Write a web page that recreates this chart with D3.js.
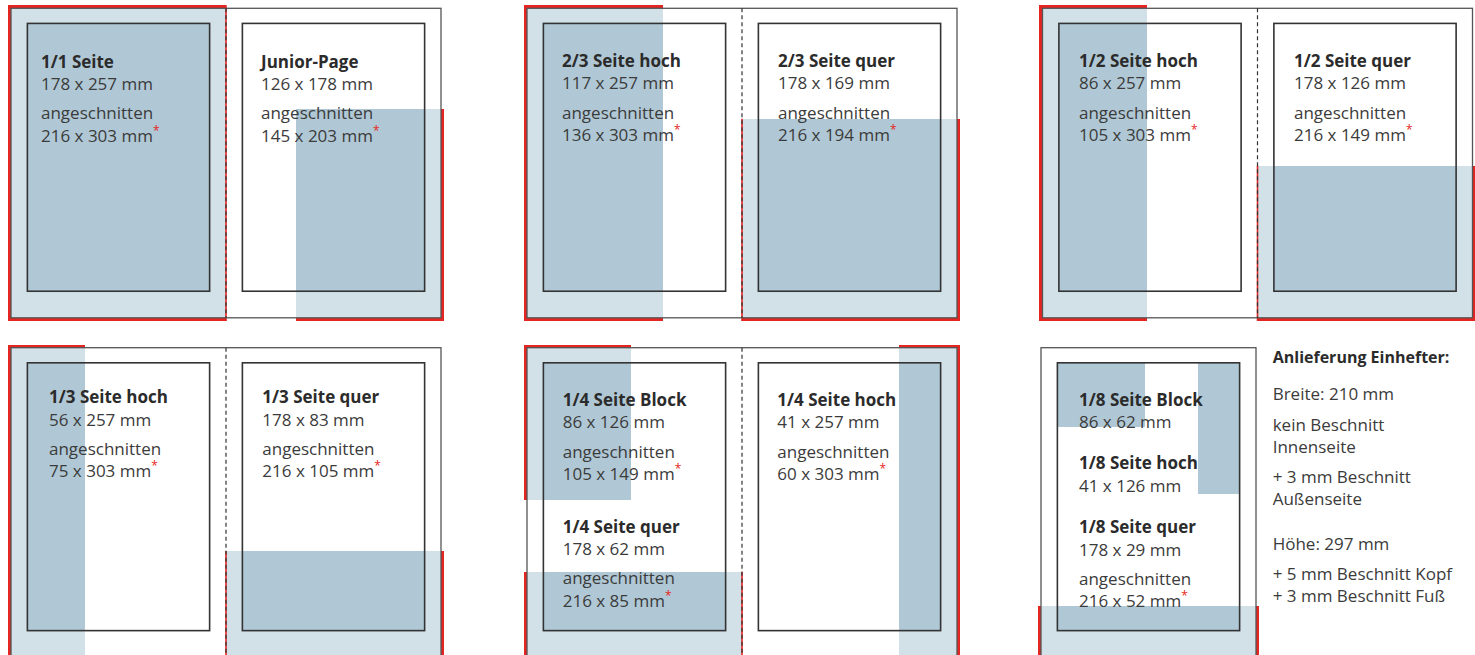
<!DOCTYPE html>
<html>
<head>
    <meta http-equiv="Content-Type" content="text/html;charset=utf-8">
    <title>Anzeigenformate</title>
    <script type="text/javascript" src="https://d3js.org/d3.v7.min.js"></script>
    <style>
        html, body {
            margin: 0;
            padding: 0;
            background: #fff;
        }
        text {
            font-family: "Open Sans", sans-serif;
            font-size: 17px;
            fill: #3b3b3b;
        }
        text.name {
            font-weight: 700;
            fill: #2b2b2b;
        }
        text.infoTitle {
            font-weight: 700;
            font-size: 16px;
            fill: #2b2b2b;
        }
        tspan.star {
            fill: #e42521;
            font-size: 12px;
        }
        rect.area {
            shape-rendering: crispEdges;
        }
        rect.frame {
            fill: none;
            stroke: #555;
            stroke-width: 1.3px;
        }
        rect.typeArea {
            fill: none;
            stroke: #333;
            stroke-width: 1.6px;
        }
        line.spine {
            stroke: #333;
            stroke-width: 1.2px;
            stroke-dasharray: 4, 3;
        }
    </style>
</head>
<body>
<script type="text/javascript">

    // formats (mm): net size and bleed size ("angeschnitten")
    var names  = ["1/1 Seite", "Junior-Page", "2/3 Seite hoch", "2/3 Seite quer", "1/2 Seite hoch", "1/2 Seite quer",
                  "1/3 Seite hoch", "1/3 Seite quer", "1/4 Seite Block", "1/4 Seite quer", "1/4 Seite hoch",
                  "1/8 Seite Block", "1/8 Seite hoch", "1/8 Seite quer"];
    var netW   = [178, 126, 117, 178, 86, 178, 56, 178, 86, 178, 41, 86, 41, 178];
    var netH   = [257, 178, 257, 169, 257, 126, 257, 83, 126, 62, 257, 62, 126, 29];
    var bleedW = [216, 145, 136, 216, 105, 216, 75, 216, 105, 216, 60, null, null, 216];
    var bleedH = [303, 203, 303, 194, 303, 149, 303, 105, 149, 85, 303, null, null, 52];

    var pageW = 210, pageH = 297, bleed = 3;
    var typeW = 178, typeH = 257, typeTop = 14.5;

    var infoTitle = "Anlieferung Einhefter:";
    var infoLines = ["Breite: 210 mm", "kein Beschnitt", "Innenseite", "+ 3 mm Beschnitt", "Außenseite",
                     "Höhe: 297 mm", "+ 5 mm Beschnitt Kopf", "+ 3 mm Beschnitt Fuß"];

    // layout
    var panelX = [11, 527, 1042.5, 11, 527, 1041];
    var panelY = [8.3, 8.3, 8.3, 347.7, 347.7, 347.7];
    var panelPages = [2, 2, 2, 2, 2, 1];

    var adPanel  = [0, 0, 1, 1, 2, 2, 3, 3, 4, 4, 4, 5, 5, 5];
    var adPage   = [0, 1, 0, 1, 0, 1, 0, 1, 0, 0, 1, 0, 0, 0];
    var adCorner = ["tl", "br", "tl", "br", "tl", "br", "tl", "br", "tl", "bl", "tr", "tl", "tr", "bl"];
    var labelX   = [30, 250, 35, 251, 36.5, 251.5, 38, 251.3, 35.7, 35.7, 250.3, 38, 38, 38];
    var labelY   = [59.4, 59.4, 58.6, 58.6, 58.6, 58.6, 55.6, 55.6, 58.3, 185, 58.3, 58.3, 121.6, 185.6];

    var infoX = 1272.7, infoY = [363.3, 400, 430.7, 453.3, 483.3, 505, 550, 580, 601.7];

    var colRed = "#e42521", colLight = "#d2e1e8", colDark = "#b0c8d5";

    var x = d3.scaleLinear().domain([0, 420]).range([0, 430]);
    var y = d3.scaleLinear().domain([0, 297]).range([0, 309.5]);

    var svg = d3.select("body").append("svg").attr("width", 1475).attr("height", 655);

    function intersect(a, b) {
        var r = {x0: Math.max(a.x0, b.x0), x1: Math.min(a.x1, b.x1), y0: Math.max(a.y0, b.y0), y1: Math.min(a.y1, b.y1)};
        return (r.x1 > r.x0 && r.y1 > r.y0) ? r : null;
    }

    function drawBox(g, r, fill) {
        if (!r) return;
        g.append("rect").attr("class", "area")
            .attr("x", x(r.x0)).attr("y", y(r.y0))
            .attr("width", x(r.x1) - x(r.x0)).attr("height", y(r.y1) - y(r.y0))
            .style("fill", fill);
    }

    var panels = panelX.map(function (px, p) {
        return svg.append("g").attr("class", "panel").attr("transform", "translate(" + px + "," + panelY[p] + ")");
    });

    function pageBoxes(p, s) {
        var x0 = s * pageW, n = panelPages[p];
        var bl = (n === 1 || s === 0) ? x0 - bleed : x0;
        var br = (n === 1 || s === 1) ? x0 + pageW + bleed : x0 + pageW;
        var tx = x0 + (pageW - typeW) / 2;
        return {
            bleed: {x0: bl, x1: br, y0: -bleed, y1: pageH + bleed},
            trim:  {x0: x0, x1: x0 + pageW, y0: 0, y1: pageH},
            type:  {x0: tx, x1: tx + typeW, y0: typeTop, y1: typeTop + typeH}
        };
    }

    // ad areas: red bleed, light trimmed part, dark part inside the type area
    names.forEach(function (name, i) {
        var p = adPanel[i], g = panels[p], box = pageBoxes(p, adPage[i]);
        var hasBleed = bleedW[i] !== null;
        var ref = hasBleed ? box.bleed : box.type;
        var w = hasBleed ? bleedW[i] : netW[i], h = hasBleed ? bleedH[i] : netH[i];
        var c = adCorner[i];
        var ax0 = c[1] === "l" ? ref.x0 : ref.x1 - w;
        var ay0 = c[0] === "t" ? ref.y0 : ref.y1 - h;
        var ad = {x0: ax0, x1: ax0 + w, y0: ay0, y1: ay0 + h};

        if (hasBleed) {
            var outer = intersect(ad, box.bleed);
            drawBox(g, outer, colRed);
            drawBox(g, intersect(ad, box.trim), colLight);
            if (panelPages[p] === 2 && outer && (outer.x0 <= pageW && outer.x1 >= pageW)) {
                g.append("line")
                    .attr("x1", x(pageW)).attr("x2", x(pageW))
                    .attr("y1", y(outer.y0)).attr("y2", y(outer.y1))
                    .style("stroke", colRed).style("stroke-width", 1.6);
            }
        }
        drawBox(g, intersect(ad, box.type), colDark);
    });

    // page frames, spine, type areas
    panels.forEach(function (g, p) {
        var n = panelPages[p];
        g.append("rect").attr("class", "frame")
            .attr("x", x(0)).attr("y", y(0))
            .attr("width", x(n * pageW)).attr("height", y(pageH));
        if (n === 2) {
            g.append("line").attr("class", "spine")
                .attr("x1", x(pageW)).attr("x2", x(pageW))
                .attr("y1", y(0)).attr("y2", y(pageH));
        }
        d3.range(n).forEach(function (s) {
            var t = pageBoxes(p, s).type;
            g.append("rect").attr("class", "typeArea")
                .attr("x", x(t.x0)).attr("y", y(t.y0))
                .attr("width", x(t.x1) - x(t.x0)).attr("height", y(t.y1) - y(t.y0));
        });
    });

    // labels
    names.forEach(function (name, i) {
        var g = panels[adPanel[i]].append("g")
            .attr("transform", "translate(" + labelX[i] + "," + labelY[i] + ")");
        g.append("text").attr("class", "name").text(name);
        g.append("text").attr("y", 22.3).text(netW[i] + " x " + netH[i] + " mm");
        if (bleedW[i] !== null) {
            g.append("text").attr("y", 51.8).text("angeschnitten");
            var t = g.append("text").attr("y", 74.1);
            t.append("tspan").text(bleedW[i] + " x " + bleedH[i] + " mm");
            t.append("tspan").attr("class", "star").attr("dy", -7).text("*");
        }
    });

    // delivery notes
    svg.append("text").attr("class", "infoTitle")
        .attr("x", infoX).attr("y", infoY[0]).text(infoTitle);
    svg.selectAll("text.info")
        .data(infoLines).enter()
        .append("text").attr("class", "info")
        .attr("x", infoX)
        .attr("y", function (d, i) { return infoY[i + 1]; })
        .text(function (d) { return d; });

</script>
</body>
</html>
